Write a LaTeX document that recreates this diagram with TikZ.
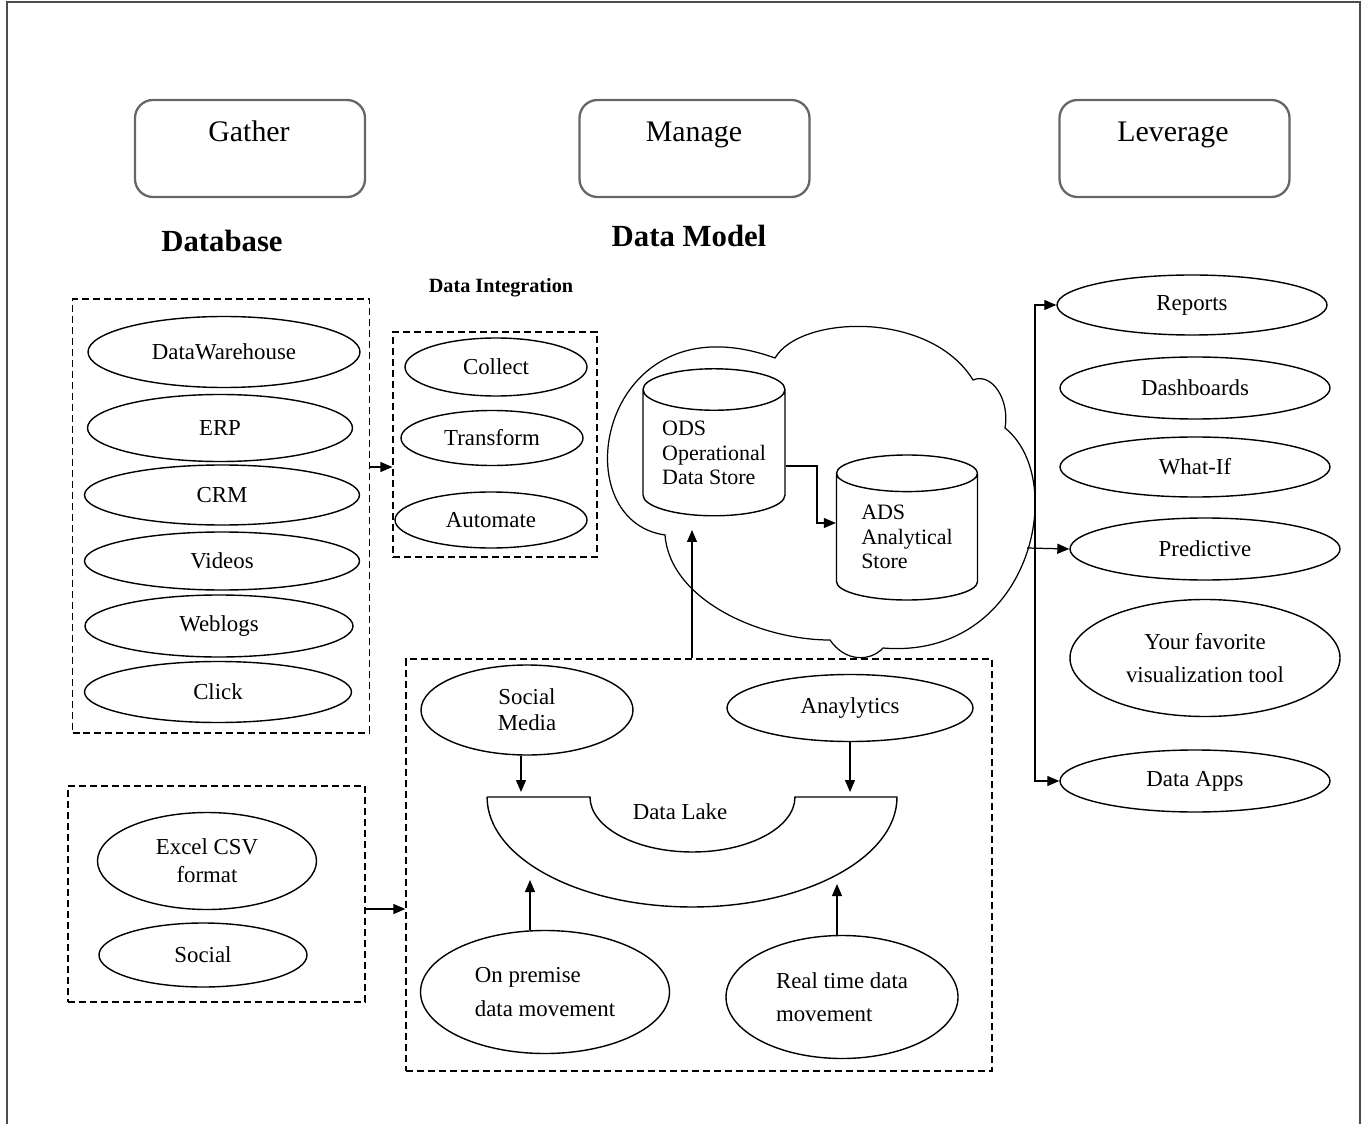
\documentclass[tikz,border=0pt]{standalone}
\usepackage{fontspec}
\setmainfont{Liberation Serif}
\usetikzlibrary{shapes.geometric,arrows.meta}

\begin{document}
\begin{tikzpicture}[x=0.02cm,y=-0.02cm,
    oval/.style 2 args={draw,ellipse,line width=0.8pt,inner sep=0pt,align=center,
      minimum width=#1*0.02cm,minimum height=#2*0.02cm,font=\fontsize{13}{15}\selectfont},
    dbox/.style 2 args={draw,dash pattern=on 0.14cm off 0.08cm,line width=0.7pt,inner sep=0pt,
      minimum width=#1*0.02cm,minimum height=#2*0.02cm},
    hbox/.style={draw=black!60,line width=1.3pt,rounded corners=0.36cm,
      minimum width=230*0.02cm,minimum height=97*0.02cm},
    htitle/.style={anchor=base,font=\fontsize{17}{20}\selectfont},
    sect/.style={font=\bfseries\fontsize{17.5}{20}\selectfont},
    store/.style={draw,cylinder,shape border rotate=90,aspect=0.4,line width=0.8pt,fill=white,
      inner sep=0pt,align=left,font=\fontsize{12.5}{14}\selectfont},
    arr/.style={-{Triangle[length=0.24cm,width=0.2cm]},line width=0.7pt}]
  \useasboundingbox (0,0) rectangle (1364,1124);
  % frame
  \draw[black!70,line width=1.2pt] (7,1124) -- (7,2) -- (1360,2) -- (1360,1124);

  % stages
  \node[hbox] (gather) at (250,148.5) {};
  \node[hbox] (manage) at (694.5,148.5) {};
  \node[hbox] (leverage) at (1174.5,148.5) {};
  \node[htitle] (gathert) at (249,142) {Gather};
  \node[htitle] (managet) at (694,142) {Manage};
  \node[htitle] (leveraget) at (1173,142) {Leverage};

  \node[sect] (dbtitle) at (222,241) {Database};
  \node[sect] (dmtitle) at (689,236) {Data Model};
  \node[font=\bfseries\fontsize{11.5}{13}\selectfont] (dititle) at (501,288) {Data Integration};

  % gather side
  \node[dbox={297}{434}] (dbbox) at (221,516) {};
  \node[oval={272}{71}] (dw) at (224,352) {DataWarehouse};
  \node[oval={265}{67}] (erp) at (220,428) {ERP};
  \node[oval={275}{60}] (crm) at (222,495) {CRM};
  \node[oval={275}{58}] (vid) at (222,561) {Videos};
  \node[oval={268}{62}] (web) at (219,626) {Weblogs};
  \node[oval={267}{61}] (click) at (218,692) {Click};

  \node[dbox={297}{216}] (filebox) at (216.5,894) {};
  \node[oval={219}{97},font=\fontsize{13}{16}\selectfont] (excel) at (207,861) {Excel CSV\\format};
  \node[oval={208}{64}] (social) at (203,955) {Social};

  % integration
  \node[dbox={204}{225}] (dibox) at (495,444.5) {};
  \node[oval={182}{58}] (collect) at (496,367) {Collect};
  \node[oval={182}{55}] (transform) at (492,438) {Transform};
  \node[oval={192}{56}] (automate) at (491,520) {Automate};

  % cloud with stores
  \draw[line width=0.7pt] (665,535) .. controls (560,520) and (600,295) .. (775,358)
    .. controls (800,315) and (930,310) .. (973,380)
    .. controls (992,372) and (1010,400) .. (1005,428)
    .. controls (1070,480) and (1030,660) .. (883,648)
    .. controls (870,662) and (845,662) .. (830,640)
    .. controls (760,640) and (670,600) .. (665,535) -- cycle;
  \coordinate (cloudr) at (1027,548);
  \node[store,minimum width=142*0.02cm,minimum height=147*0.02cm] (ods) at (714,453) {ODS\\Operational\\Data Store};
  \node[store,minimum width=141*0.02cm,minimum height=145*0.02cm] (ads) at (907,537) {ADS\\Analytical\\Store};

  % data lake
  \node[dbox={586}{412}] (lakebox) at (699,865) {};
  \draw[line width=0.8pt] (487,797) -- (590,797)
    arc[start angle=180,end angle=360,x radius=2.05cm,y radius=1.1cm] -- (897,797)
    arc[start angle=0,end angle=-180,x radius=4.1cm,y radius=2.2cm] -- cycle;
  \node[font=\fontsize{13}{15}\selectfont] (lake) at (680,812) {Data Lake};
  \coordinate (lakesm) at (521,792);
  \coordinate (lakean) at (850,792);
  \coordinate (lakeop) at (530,880);
  \coordinate (lakert) at (837,884);
  \node[oval={212}{90},font=\fontsize{13}{15}\selectfont] (media) at (527,710) {Social\\Media};
  \node[oval={246}{67}] (analytics) at (850,708) {Anaylytics};
  \node[oval={249}{123},align=left,font=\fontsize{13}{19}\selectfont] (onprem) at (545,992) {On premise\\data movement};
  \node[oval={232}{123},align=left,font=\fontsize{13}{19}\selectfont] (realtime) at (842,997) {Real time data\\movement};

  % leverage side
  \node[oval={270}{60}] (reports) at (1192,305) {Reports};
  \node[oval={270}{62}] (dashboards) at (1195,388) {Dashboards};
  \node[oval={270}{60}] (whatif) at (1195,467) {What-If};
  \node[oval={270}{62}] (predictive) at (1205,549) {Predictive};
  \node[oval={270}{117},font=\fontsize{13}{19}\selectfont] (favtool) at (1205,658) {Your favorite\\visualization tool};
  \node[oval={270}{62}] (apps) at (1195,781) {Data Apps};

  % connectors
  \draw[arr] (dbbox.east |- 0,467) -- (dibox.west |- 0,467);
  \draw[arr] (filebox.east |- 0,909) -- (lakebox.west |- 0,909);
  \draw[arr] (lakebox.north -| 692,0) -- (692,530);
  \draw[arr] (ods.east |- 0,466) -- (817,466) |- (ads.west |- 0,523);
  \draw[arr] (media.south -| lakesm) -- (lakesm);
  \draw[arr] (analytics.south -| lakean) -- (lakean);
  \draw[arr] (onprem.north -| lakeop) -- (lakeop);
  \draw[arr] (realtime.north -| lakert) -- (lakert);
  \draw[arr] (cloudr) -- (predictive.west);
  \draw[arr] (1035,548) |- (reports.west);
  \draw[arr] (1035,548) |- (apps.west);
\end{tikzpicture}
\end{document}
